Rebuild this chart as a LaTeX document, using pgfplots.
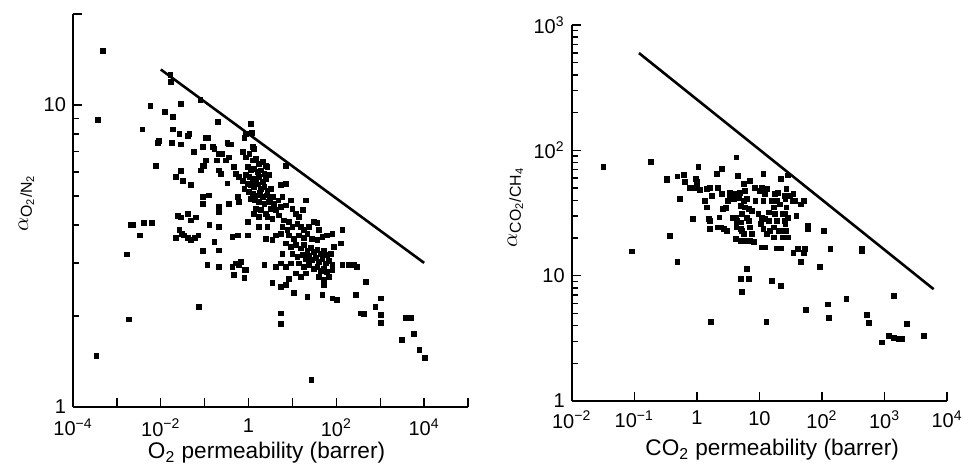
\documentclass[border=0pt]{standalone}
\usepackage{fontspec}
\setmainfont{Liberation Sans}
\usepackage{pgfplots}
\pgfplotsset{compat=1.18}

\begin{document}
\begin{tikzpicture}
\useasboundingbox (0,0) rectangle (481.5pt,233.5pt);

% O2/N2
\begin{axis}[
  xmode=log, ymode=log, scale only axis,
  axis x line*=bottom, axis y line*=left,
  axis line style={-, line width=0.8pt},
  tick align=inside,
  major tick length=4.5pt, minor tick length=3pt,
  tick style={black, line width=0.7pt},
  xminorticks=false,
  tick label style={font=\fontsize{10}{12}\selectfont},
  xticklabel style={yshift=-2.5pt},
  at={(36.5pt,30pt)}, anchor=south west,
  width=197.5pt, height=196.5pt,
  xmin=1e-4, xmax=1e5, ymin=1, ymax=20,
  xtick={1e-4,1e-3,1e-2,1e-1,1,10,100,1e3,1e4,1e5},
  xticklabels={10\textsuperscript{−4},,10\textsuperscript{−2},,1,,10\textsuperscript{2},,10\textsuperscript{4},},
  ytick={1,10,20}, yticklabels={1,10,},
  minor ytick={2,3,4,5,6,7,8,9},
  xlabel={O\textsubscript{2} permeability (barrer)},
  ylabel={$\alpha$\textsubscript{O\textsubscript{2}/N\textsubscript{2}}},
  xlabel style={at={(axis description cs:0.49,-0.117)}, anchor=center, font=\fontsize{11.3}{13}\selectfont},
  ylabel style={at={(axis description cs:-0.118,0.52)}, anchor=center, font=\fontsize{11.3}{13}\selectfont},
]
\addplot[only marks, mark=square*, mark size=1.2pt, black] table {
x y
4.8e-4 15.1
3.7e-4 8.9
3.4e-4 1.48
1.7e-3 3.2
1.84e-3 1.95
2.1e-3 4.0
2.3e-3 4.0
3.3e-3 3.7
4.1e-3 4.07
6.3e-3 4.07
3.8e-3 8.3
5.8e-3 9.9
8.6e-3 7.5
8.9e-3 7.6
7.8e-3 6.27
0.0126 9.5
0.0166 12.6
0.0172 11.9
0.0187 9.1
0.0187 8.3
0.029 10.1
0.08 10.4
0.018 7.5
0.029 7.4
0.0265 8.0
0.045 8.0
0.041 7.9
0.058 6.98
0.09 7.25
0.117 7.8
0.107 7.8
0.198 8.8
0.152 7.25
0.166 7.15
0.215 6.89
0.245 6.89
0.187 6.55
0.36 7.4
0.4 7.4
0.33 7.5
0.3 6.55
0.36 6.7
0.09 6.27
0.098 6.27
0.107 6.55
0.083 6.07
0.0223 5.77
0.029 6.05
0.0316 5.62
0.049 5.42
0.215 6.07
0.235 5.92
0.33 5.5
0.47 6.22
0.52 5.92
0.61 5.77
0.025 4.29
0.029 4.24
0.041 4.37
0.049 4.15
0.063 4.24
0.0265 3.85
0.030 3.75
0.034 3.7
0.041 3.64
0.049 3.58
0.059 3.64
0.072 3.7
0.0223 3.64
0.093 4.71
0.123 5.02
0.093 4.95
0.128 4.0
0.093 3.29
0.115 2.95
0.208 4.59
0.215 4.42
0.208 3.95
0.166 3.52
0.215 3.3
0.215 2.91
0.36 4.71
0.43 3.66
0.56 3.7
0.95 4.1
0.95 3.7
0.61 4.77
0.56 4.95
0.43 2.91
0.47 2.73
0.52 2.99
0.61 2.95
0.80 2.84
0.87 2.85
0.80 2.68
0.67 3.03
0.73 6.98
0.87 6.7
1.04 6.89
1.23 6.55
1.47 6.62
1.75 6.39
2.1 6.47
2.5 6.3
0.95 6.22
1.13 6.07
1.35 6.15
1.6 6.0
1.9 6.07
2.3 5.92
2.7 6.22
0.87 5.85
1.04 5.77
1.23 5.7
1.47 5.62
1.75 5.77
2.1 5.56
2.5 5.7
2.95 5.85
0.73 5.62
0.95 5.49
1.13 5.42
1.35 5.35
1.6 5.46
1.9 5.28
2.3 5.35
2.7 5.21
3.2 5.28
0.80 5.28
1.0 5.15
1.23 5.08
1.52 5.02
1.8 5.1
2.15 4.95
2.6 5.02
3.05 4.9
3.6 4.95
1.13 4.9
1.42 4.83
1.75 4.77
2.3 4.71
2.95 4.77
3.8 4.71
4.8 4.83
5.9 4.95
5.4 5.42
7.1 5.49
1.47 4.54
1.9 4.48
2.5 4.37
3.2 4.54
4.2 4.48
5.4 4.59
7.1 4.65
9.2 4.83
10 4.54
1.35 4.37
1.75 4.26
2.7 4.26
3.5 4.2
5.0 4.31
6.5 4.15
8.4 4.1
12 4.37
14 4.26
17 4.48
20 4.83
7.1 6.3
5.9 3.95
7.7 3.85
10 3.95
13 4.05
15.5 3.95
18.5 3.85
24 3.95
31 4.1
37 4.07
40 3.85
8.4 3.7
11 3.61
14 3.7
18.5 3.64
22 3.75
28 3.61
37 3.57
48 3.66
62 3.7
81 3.75
137 3.85
7.1 3.48
9.2 3.39
12 3.44
15.5 3.35
18.5 3.44
22 3.3
26 3.37
31 3.26
37 3.31
44 3.22
52 3.28
62 3.18
74 3.22
89 3.39
126 3.48
10 3.22
13 3.14
17 3.18
20 3.1
24 3.16
28 3.06
34 3.12
40 3.03
48 3.09
57 2.99
68 3.05
81 2.95
14 2.99
18.5 2.91
24 2.95
31 2.87
37 2.91
44 2.82
52 2.87
62 2.8
81 2.84
40 2.7
52 2.63
68 2.7
5.9 3.22
5.4 2.99
7.1 2.91
9.2 2.99
12 2.77
8.4 2.66
15.5 2.7
20 2.77
7.1 2.53
5.4 2.5
4.2 2.91
3.5 2.57
11 2.38
22 2.32
52 2.53
48 2.35
81 2.29
105 2.26
137 2.95
195 2.95
250 2.95
300 2.91
275 2.35
465 2.6
355 2.04
425 2.03
1020 2.29
780 2.15
1020 2.02
1020 1.9
3760 1.97
4900 1.97
3160 1.67
5870 1.75
7800 1.55
10400 1.45
5.4 2.04
5.4 1.88
27 1.23
0.073 2.15
2.5 3.61
3.5 3.57
1.75 3.95
2.7 3.95
2.3 2.95
4.2 3.7
5.4 3.75
1.13 8.65
1.17 8.1
1.23 7.25
1.35 7.15
0.80 7.8
0.87 8.0
};
\addplot[no marks, black, line width=1.3pt] coordinates {(0.01,13.1) (1e4,3.0)};
\end{axis}

% CO2/CH4
\begin{axis}[
  xmode=log, ymode=log, scale only axis,
  axis x line*=bottom, axis y line*=left,
  axis line style={-, line width=0.8pt},
  tick align=inside,
  major tick length=4.5pt, minor tick length=3pt,
  tick style={black, line width=0.7pt},
  xminorticks=false,
  tick label style={font=\fontsize{10}{12}\selectfont},
  xticklabel style={yshift=-1.5pt},
  at={(285.85pt,33pt)}, anchor=south west,
  width=187.7pt, height=188pt,
  xmin=1e-2, xmax=1e4, ymin=1, ymax=1000,
  xtick={1e-2,1e-1,1,10,100,1e3,1e4},
  xticklabels={10\textsuperscript{−2},10\textsuperscript{−1},1,10,10\textsuperscript{2},10\textsuperscript{3},10\textsuperscript{4}},
  ytick={1,10,100,1000},
  yticklabels={1,10,10\textsuperscript{2},10\textsuperscript{3}},
  minor ytick={2,3,4,5,6,7,8,9,20,30,40,50,60,70,80,90,200,300,400,500,600,700,800,900},
  xlabel={CO\textsubscript{2} permeability (barrer)},
  ylabel={$\alpha$\textsubscript{CO\textsubscript{2}/CH\textsubscript{4}}},
  xlabel style={at={(axis description cs:0.534,-0.13)}, anchor=center, font=\fontsize{11.3}{13}\selectfont},
  ylabel style={at={(axis description cs:-0.15,0.516)}, anchor=center, font=\fontsize{11.3}{13}\selectfont},
]
\addplot[only marks, mark=square*, mark size=1.2pt, black] table {
x y
0.032 74
0.091 15.6
0.183 81
0.33 57.5
0.33 59
0.49 62
0.63 64
0.65 56
0.53 41
0.37 20.9
0.49 12.8
0.86 28.3
1.06 74
0.97 59
1.0 56
0.76 50
0.88 50
1.0 50
1.13 48
1.45 49
1.63 50
1.74 43.5
1.36 39.6
1.45 35
1.63 27.5
1.55 28.4
1.63 23.6
2.1 65
2.5 71
2.2 50
2.5 45
2.3 29.2
2.6 34
2.9 34.8
2.2 24.3
2.4 24.3
2.7 23.6
3.0 22.9
3.4 41
3.86 41
4.3 87.7
4.5 62.8
4.7 42
4.2 29
4.4 27.5
4.3 24.3
4.2 19.6
5.0 36
5.3 31
5.0 26.6
5.3 22.9
5.6 54
5.9 47.6
5.6 39.6
5.9 35
6.3 41
6.7 34
7.1 57
6.3 29
6.7 27.5
7.1 24.3
7.6 21.5
5.9 19
5.6 21.5
5.0 19
7.1 19
8.1 18.5
8.6 39.6
10.2 47.6
10.9 50
12.3 45
11.6 39.6
11.6 65
13 49
14 32
10.9 29
12.3 28.4
11.6 23.6
13 21.5
14.8 22.9
10.9 16.8
12.3 16.8
17.8 45
18.9 39.6
16.8 35
17.8 31
18.9 27.5
16.8 24.3
21 37
22 59
23.6 31
25 27.5
22 22.9
23.6 20.2
22 16.5
18.9 16.5
27 49
28.5 63
26 41
27 35
28.5 29
26 25.8
27 22.9
29 20.2
35 45
37 39.6
39 30
51 39.6
46 37
35 15.3
41 16.3
51 15.3
54 16.3
46 12.8
59 23.6
59 25
106 22.9
136 16.3
94 11.7
437 15.6
437 16.3
6.3 11.3
5.0 9.4
6.7 9.4
5.3 7.4
15.8 9.1
22 8.3
1.66 4.3
12.9 4.3
55 5.3
124 5.9
130 4.6
245 6.5
1410 6.9
525 4.85
560 4.2
2300 4.1
910 2.94
1170 3.3
1410 3.2
1700 3.15
1900 3.15
4250 3.3
3.42 46
4.1 45
3.1 39.6
3.8 29
4.3 25.8
4.9 46
8.5 50
9.6 31
10.5 25.8
14 27.5
15.8 39.6
20 46
25 43.5
34 39.6
16.8 20.2
20.5 22.9
26 31
30.5 43.5
5.0 23.6
7.6 33
};
\addplot[no marks, black, line width=1.3pt] coordinates {(0.119,597) (6100,7.8)};
\end{axis}
\end{tikzpicture}
\end{document}
